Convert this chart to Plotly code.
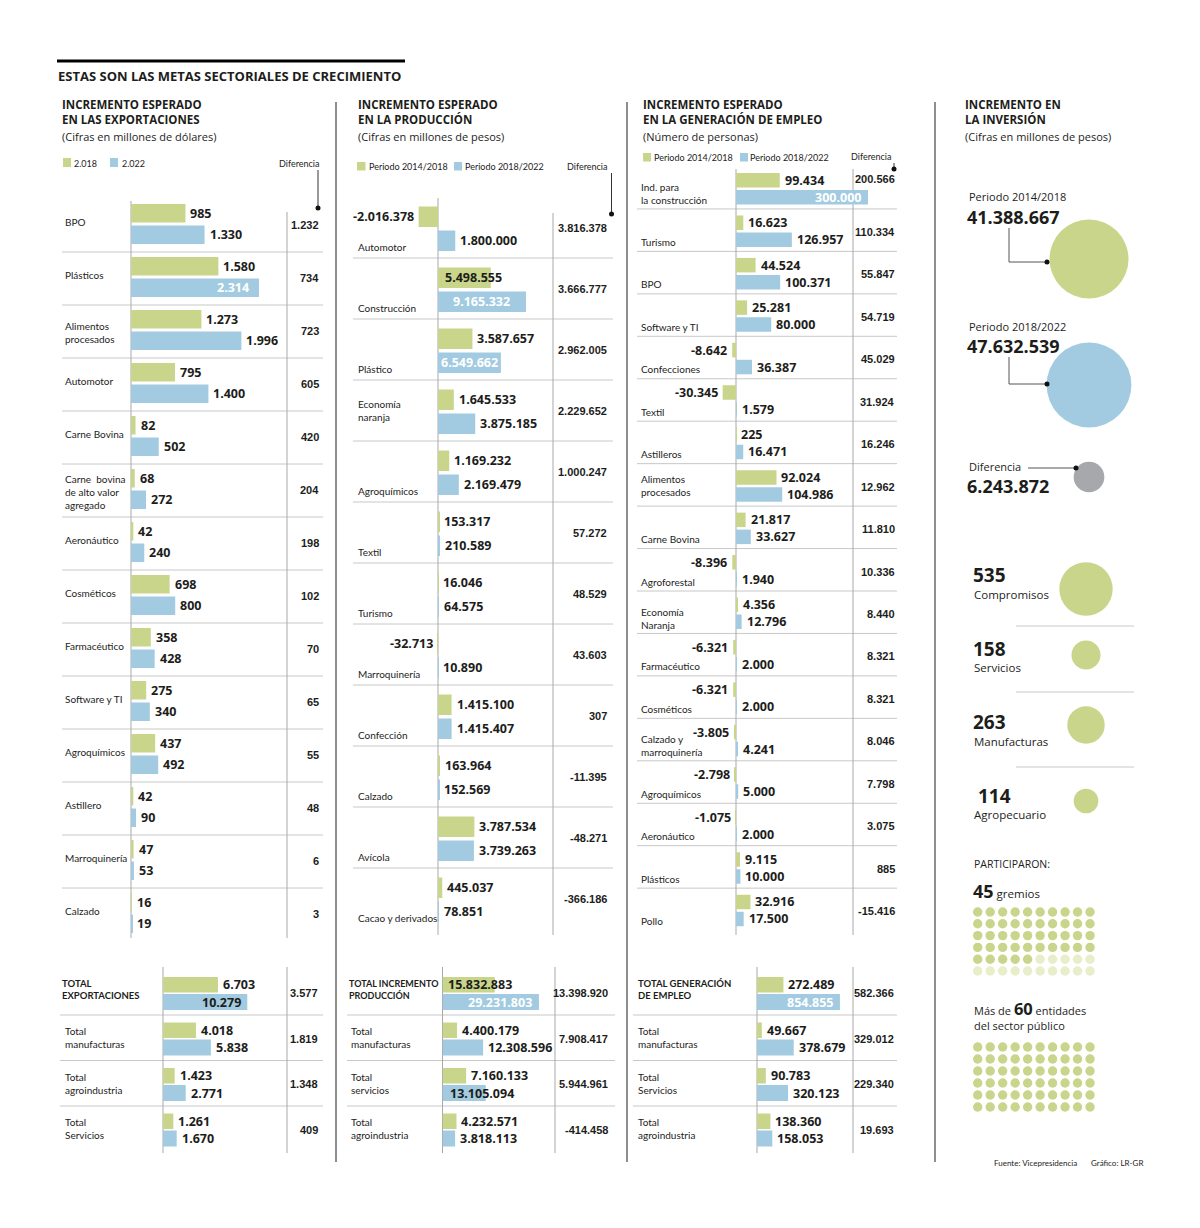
import plotly.graph_objects as go

W, H = 1200, 1228

# ---------------- DATA ----------------
# Exportaciones (millones de dólares)
exp_sectores = ["BPO", "Plásticos", "Alimentos<br>procesados", "Automotor", "Carne Bovina",
                "Carne  bovina<br>de alto valor<br>agregado", "Aeronáutico", "Cosméticos",
                "Farmacéutico", "Software y TI", "Agroquímicos", "Astillero", "Marroquinería", "Calzado"]
exp_2018 = [985, 1580, 1273, 795, 82, 68, 42, 698, 358, 275, 437, 42, 47, 16]
exp_2022 = [1330, 2314, 1996, 1400, 502, 272, 240, 800, 428, 340, 492, 90, 53, 19]
exp_diferencia = [1232, 734, 723, 605, 420, 204, 198, 102, 70, 65, 55, 48, 6, 3]

exp_tot_sectores = ["TOTAL<br>EXPORTACIONES", "Total<br>manufacturas", "Total<br>agroindustria", "Total<br>Servicios"]
exp_tot_2018 = [6703, 4018, 1423, 1261]
exp_tot_2022 = [10279, 5838, 2771, 1670]
exp_tot_diferencia = [3577, 1819, 1348, 409]

# Producción (millones de pesos)
prod_sectores = ["Automotor", "Construcción", "Plástico", "Economía<br>naranja", "Agroquímicos", "Textil",
                 "Turismo", "Marroquinería", "Confección", "Calzado", "Avícola", "Cacao y derivados"]
prod_1418 = [-2016378, 5498555, 3587657, 1645533, 1169232, 153317, 16046, -32713, 1415100, 163964, 3787534, 445037]
prod_1822 = [1800000, 9165332, 6549662, 3875185, 2169479, 210589, 64575, 10890, 1415407, 152569, 3739263, 78851]
prod_diferencia = [3816378, 3666777, 2962005, 2229652, 1000247, 57272, 48529, 43603, 307, -11395, -48271, -366186]

prod_tot_sectores = ["TOTAL INCREMENTO<br>PRODUCCIÓN", "Total<br>manufacturas", "Total<br>servicios", "Total<br>agroindustria"]
prod_tot_1418 = [15832883, 4400179, 7160133, 4232571]
prod_tot_1822 = [29231803, 12308596, 13105094, 3818113]
prod_tot_diferencia = [13398920, 7908417, 5944961, -414458]

# Empleo (número de personas)
emp_sectores = ["Ind. para<br>la construcción", "Turismo", "BPO", "Software y TI", "Confecciones", "Textil",
                "Astilleros", "Alimentos<br>procesados", "Carne Bovina", "Agroforestal", "Economía<br>Naranja",
                "Farmacéutico", "Cosméticos", "Calzado y<br>marroquinería", "Agroquímicos", "Aeronáutico",
                "Plásticos", "Pollo"]
emp_1418 = [99434, 16623, 44524, 25281, -8642, -30345, 225, 92024, 21817, -8396, 4356, -6321, -6321, -3805,
            -2798, -1075, 9115, 32916]
emp_1822 = [300000, 126957, 100371, 80000, 36387, 1579, 16471, 104986, 33627, 1940, 12796, 2000, 2000, 4241,
            5000, 2000, 10000, 17500]
emp_diferencia = [200566, 110334, 55847, 54719, 45029, 31924, 16246, 12962, 11810, 10336, 8440, 8321, 8321,
                  8046, 7798, 3075, 885, -15416]

emp_tot_sectores = ["TOTAL GENERACIÓN<br>DE EMPLEO", "Total<br>manufacturas", "Total<br>Servicios", "Total<br>agroindustria"]
emp_tot_1418 = [272489, 49667, 90783, 138360]
emp_tot_1822 = [854855, 378679, 320123, 158053]
emp_tot_diferencia = [582366, 329012, 229340, 19693]

# Inversión (millones de pesos)
inv_periodos = ["Periodo 2014/2018", "Periodo 2018/2022", "Diferencia"]
inv_valores = [41388667, 47632539, 6243872]

comp_labels = ["Compromisos", "Servicios", "Manufacturas", "Agropecuario"]
comp_valores = [535, 158, 263, 114]

gremios = 45
entidades = 60

# ---------------- STYLE ----------------
GREEN = "#c8d58a"
BLUE = "#a2cbe1"
GREYC = "#a7a8ab"
PALE = "#e8edca"
INK = "#1d1d1b"
RULE = "#c8c8c8"
VLINE = "#a9a9a9"
COLSEP = "#8e8e8e"
NUM = "Open Sans"
COND = "Noto Sans Condensed, Liberation Sans Narrow, Lato, sans-serif"
DIFF = "Noto Sans Condensed, Liberation Sans Narrow, Liberation Sans, sans-serif"

OFF = 8  # page body margin of the html page


def fmt(v):
    s = f"{abs(v):,}".replace(",", ".")
    return ("-" if v < 0 else "") + s


layout = {}
shapes = []
anns = []
traces = []


def hline(x0, x1, y, color=RULE, w=1):
    shapes.append(dict(type="line", xref="x", yref="y", x0=x0, x1=x1, y0=y, y1=y,
                       line=dict(color=color, width=w), layer="below"))


def vline(x, y0, y1, color=VLINE, w=1):
    shapes.append(dict(type="line", xref="x", yref="y", x0=x, x1=x, y0=y0, y1=y1,
                       line=dict(color=color, width=w), layer="below"))


def rect(x0, y0, x1, y1, color):
    shapes.append(dict(type="rect", xref="x", yref="y", x0=x0, x1=x1, y0=y0, y1=y1,
                       fillcolor=color, line=dict(width=0), layer="below"))


def text(x, y, s, size, family=COND, weight=400, color=INK, xanchor="left", yanchor="middle",
         xref="x", yref="y", xshift=0):
    anns.append(dict(x=x, y=y, xref=xref, yref=yref, text=s, showarrow=False, xanchor=xanchor,
                     yanchor=yanchor, align="right" if xanchor == "right" else "left", xshift=xshift,
                     font=dict(family=family, size=size, color=color, weight=weight)))


axis_counter = [1]


def panel(cats, v1, v2, base, scale, x0, x1, top, pitch, g, b, modes):
    axis_counter[0] += 1
    k = axis_counter[0]
    n = len(cats)
    xa, ya = f"x{k}", f"y{k}"
    bottom = top + n * pitch
    layout[f"xaxis{k}"] = dict(domain=[(x0 - OFF) / W, (x1 - OFF) / W],
                               range=[(x0 - base) / scale, (x1 - base) / scale],
                               visible=False, fixedrange=True, anchor=ya)
    layout[f"yaxis{k}"] = dict(domain=[1 - (bottom - OFF) / H, 1 - (top - OFF) / H], range=[n - 0.5, -0.5],
                               type="category", categoryorder="array", categoryarray=cats,
                               visible=False, fixedrange=True, anchor=xa)
    for key, (vals, (off, wid), col) in enumerate(((v1, g, GREEN), (v2, b, BLUE))):
        traces.append(go.Bar(x=vals, y=cats, orientation="h", xaxis=xa, yaxis=ya,
                             marker=dict(color=col, line=dict(width=0)), width=wid / pitch,
                             offset=-0.5 + off / pitch, hoverinfo="skip"))
        for i, v in enumerate(vals):
            mode, pad = modes.get((key, i), ("out", 3))
            yy = i - 0.5 + (off + wid / 2) / pitch
            color = INK
            if mode == "out":
                if v >= 0:
                    xx, xan, xs = v, "left", pad
                else:
                    xx, xan, xs = v, "right", -pad
            elif mode in ("inw", "ind"):
                xx, xan, xs = v, "right", -pad
                color = "white" if mode == "inw" else INK
            elif mode == "inl":
                xx, xan, xs = 0, "left", pad
            else:  # centered white
                xx, xan, xs = v / 2, "center", 0
                color = "white"
            anns.append(dict(x=xx, y=yy, xref=xa, yref=ya, text=fmt(v), showarrow=False, xanchor=xan,
                             yanchor="middle", xshift=xs,
                             font=dict(family=NUM, size=12.5, color=color, weight=700)))
    return k


# ---------------- overlay (pixel) axis ----------------
layout["xaxis"] = dict(domain=[0, 1], range=[OFF, W + OFF], visible=False, fixedrange=True)
layout["yaxis"] = dict(domain=[0, 1], range=[H + OFF, OFF], visible=False, fixedrange=True)

# title
hline(57, 405, 61, "#000000", 3)
text(56, 76, "ESTAS SON LAS METAS SECTORIALES DE CRECIMIENTO", 13, NUM, 700)

# column separators
for xs in (336, 627, 935):
    vline(xs, 102, 1162, COLSEP, 2)


def header(x, l1, l2, l3):
    text(x, 112, l1 + "<br>" + l2, 11.5, NUM, 700)
    text(x, 136.5, l3, 11, NUM, 400)


def diff_leader(xtext, ytext, xl, y0, y1):
    text(xtext, ytext, "Diferencia", 9, COND, xanchor="right")
    vline(xl, y0, y1, "#333333", 1)
    traces.append(go.Scatter(x=[xl], y=[y1], mode="markers", xaxis="x", yaxis="y", hoverinfo="skip",
                             marker=dict(size=5, color="#111111")))


LAB = 10     # category labels
LEG = 9      # legend texts
DSZ = 11     # difference values

# ================= COLUMN 1: EXPORTACIONES =================
header(59.5, "INCREMENTO ESPERADO", "EN LAS EXPORTACIONES", "(Cifras en millones de dólares)")
rect(63, 158, 71, 167, GREEN)
text(72, 163, "2.018", LEG)
rect(110, 158, 118, 167, BLUE)
text(120, 163, "2.022", LEG)
diff_leader(320.5, 163, 318, 170, 208)

T1, P1 = 199, 53
panel(exp_sectores, exp_2018, exp_2022, 131, 0.0553, 131, 330, T1, P1, (5, 18.5), (26.5, 18.5),
      {(1, 1): ("inw", 8)})
for i, c in enumerate(exp_sectores):
    yc = T1 + (i + 0.5) * P1
    text(63, yc + (1 if "<br>" in c else -4), c, LAB)
    text(321, yc - 1, fmt(exp_diferencia[i]), DSZ, DIFF, 700, xanchor="right")
for kk in range(1, len(exp_sectores)):
    hline(62, 323, T1 + kk * P1)
vline(131, 201, 938)
vline(287, 212, 938)

TT, PT = 969.5, 45.5
panel(exp_tot_sectores, exp_tot_2018, exp_tot_2022, 163, 0.0082, 163, 330, TT, PT, (7.5, 15.5), (24.5, 16),
      {(1, 0): ("ind", 4)})
for i, c in enumerate(exp_tot_sectores):
    yc = TT + (i + 0.5) * PT
    if i == 0:
        text(60, yc - 3, c, 9.5, COND, 700)
    else:
        text(63, yc, c, LAB)
    text(320, yc + 1, fmt(exp_tot_diferencia[i]), DSZ, DIFF, 700, xanchor="right")
for kk in range(1, 4):
    hline(60, 323, TT + kk * PT)
vline(163, 967, 1153)
vline(287, 967, 1153)

# ================= COLUMN 2: PRODUCCIÓN =================
header(356, "INCREMENTO ESPERADO", "EN LA PRODUCCIÓN", "(Cifras en millones de pesos)")
rect(357, 162, 365.5, 170.5, GREEN)
text(367, 166, "Periodo 2014/2018", LEG)
rect(454, 162, 462, 170.5, BLUE)
text(463, 166, "Periodo 2018/2022", LEG)
diff_leader(608.5, 166, 611.5, 173, 214)

T2, P2 = 197, 61
panel(prod_sectores, prod_1418, prod_1822, 438, 0.96e-5, 400, 620, T2, P2, (9.5, 20.5), (33.5, 20.5),
      {(0, 1): ("inl", 5), (1, 1): ("incw", 0), (1, 2): ("incw", 0)})
for i, c in enumerate(prod_sectores):
    yt = T2 + i * P2
    text(356, (yt + P2 / 2) if "<br>" in c else (yt + 50), c, LAB)
    text(608.5, yt + P2 / 2, fmt(prod_diferencia[i]), DSZ, DIFF, 700, xanchor="right")
for kk in range(1, len(prod_sectores)):
    hline(353, 613, T2 + kk * P2)
vline(438, 198, 935)
vline(553, 213, 935)

panel(prod_tot_sectores, prod_tot_1418, prod_tot_1822, 442.5, 3.3e-6, 442.5, 620, TT, PT, (7.5, 15.5), (24.5, 16),
      {(0, 0): ("inl", 3), (1, 0): ("inw", 5), (1, 2): ("inl", 5)})
for i, c in enumerate(prod_tot_sectores):
    yc = TT + (i + 0.5) * PT
    if i == 0:
        text(347, yc - 3, c, 9, COND, 700)
    else:
        text(349, yc, c, LAB)
    text(610, yc + 1, fmt(prod_tot_diferencia[i]), DSZ, DIFF, 700, xanchor="right")
for kk in range(1, 4):
    hline(347, 615, TT + kk * PT)
vline(442.5, 967, 1153)
vline(555, 967, 1153)

# ================= COLUMN 3: EMPLEO =================
header(641, "INCREMENTO ESPERADO", "EN LA GENERACIÓN DE EMPLEO", "(Número de personas)")
rect(643, 153, 651, 161.5, GREEN)
text(652, 157, "Periodo 2014/2018", LEG)
rect(740, 153, 748, 161.5, BLUE)
text(748, 157, "Periodo 2018/2022", LEG)
diff_leader(893, 156.5, 894, 163, 169)

T3, P3 = 166.5, 42.45
panel(emp_sectores, emp_1418, emp_1822, 736, 4.4e-4, 700, 900, T3, P3, (6.5, 14.5), (23.5, 14.5),
      {(1, 0): ("inw", 5)})
for i, c in enumerate(emp_sectores):
    yt = T3 + i * P3
    if "<br>" in c:
        yl = yt + (22 if c.startswith("Alimentos") else 27)
    else:
        yl = yt + 33
    text(639, yl, c, LAB)
    text(897, yt + (12.5 if i == 0 else 23), fmt(emp_diferencia[i]), DSZ, DIFF, 700, xanchor="right")
for kk in range(1, len(emp_sectores)):
    hline(637, 897, T3 + kk * P3)
vline(736, 169, 935)
vline(853, 169, 935)

panel(emp_tot_sectores, emp_tot_1418, emp_tot_1822, 757, 0.97e-4, 757, 900, TT, PT, (7.5, 15.5), (24.5, 16),
      {(1, 0): ("inw", 5)})
for i, c in enumerate(emp_tot_sectores):
    yc = TT + (i + 0.5) * PT
    if i == 0:
        text(636, yc - 3, c, 9.5, COND, 700)
    else:
        text(636, yc, c, LAB)
    text(896, yc + 1, fmt(emp_tot_diferencia[i]), DSZ, DIFF, 700, xanchor="right")
for kk in range(1, 4):
    hline(633, 897, TT + kk * PT)
vline(757, 967, 1153)
vline(853, 967, 1153)

# ================= COLUMN 4: INVERSIÓN =================
text(962.5, 112, "INCREMENTO EN<br>LA INVERSIÓN", 11.5, NUM, 700)
text(962.5, 136.5, "(Cifras en millones de pesos)", 11, NUM)

inv_label_y = [196, 326, 466.5]
inv_value_y = [216.5, 345.5, 486]
inv_centers = [(1089, 259), (1089, 385), (1089, 477)]
inv_colors = [GREEN, BLUE, GREYC]
r_max = 42.4
vmax = max(inv_valores)
for lab, v, ly, vy, (cx, cy), col in zip(inv_periodos, inv_valores, inv_label_y, inv_value_y, inv_centers, inv_colors):
    text(967, ly, lab, 11, NUM)
    text(965, vy, fmt(v), 18, NUM, 700)
    d = 2 * r_max * (v / vmax) ** 0.5
    traces.append(go.Scatter(x=[cx], y=[cy], mode="markers", xaxis="x", yaxis="y", hoverinfo="skip",
                             marker=dict(size=d, color=col, line=dict(width=0))))
# connectors
for y0, y1 in ((228, 262), (357, 384)):
    vline(1009, y0, y1, "#555555", 1)
    hline(1009, 1047, y1, "#555555", 1)
hline(1028, 1076, 468, "#555555", 1)
traces.append(go.Scatter(x=[1047, 1047, 1076], y=[262, 384, 468], mode="markers", xaxis="x", yaxis="y",
                         hoverinfo="skip", marker=dict(size=5, color="#111111")))

# compromisos
comp_num_y = [575, 649, 722, 796]
comp_lab_y = [594, 667, 741, 814]
comp_circ_y = [589, 655, 725, 801]
cmax = max(comp_valores)
for j, (lab, v) in enumerate(zip(comp_labels, comp_valores)):
    text(971 if j < 3 else 976, comp_num_y[j], str(v), 19, NUM, 700)
    text(971.5, comp_lab_y[j], lab, 11.5, NUM)
    d = 2 * 26.7 * (v / cmax) ** 0.5
    traces.append(go.Scatter(x=[1086], y=[comp_circ_y[j]], mode="markers", xaxis="x", yaxis="y",
                             hoverinfo="skip", marker=dict(size=d, color=GREEN, line=dict(width=0))))
for ys in (626, 692, 767):
    hline(1016, 1134, ys, RULE, 1)

# participaron
BIG = '<span style="font-size:{}px;font-weight:bold">{}</span>'
text(971.5, 864, "PARTICIPARON:", 10.5, NUM)
text(971, 891, BIG.format(18, gremios) + " gremios", 11.5, NUM)
text(971.5, 1008, "Más de " + BIG.format(16.5, entidades) + " entidades", 11, NUM)
text(971.5, 1025, "del sector público", 11, NUM)


def dot_grid(count, y0, dy):
    xs, ys, cs = [], [], []
    for r in range(6):
        for c in range(10):
            idx = r * 10 + c
            xs.append(977.7 + c * 12.48)
            ys.append(y0 + r * dy)
            cs.append(GREEN if idx < count else PALE)
    traces.append(go.Scatter(x=xs, y=ys, mode="markers", xaxis="x", yaxis="y", hoverinfo="skip",
                             marker=dict(size=9.4, color=cs, line=dict(width=0))))


dot_grid(gremios, 912, 11.8)
dot_grid(entidades, 1047, 12)

text(992, 1163, "Fuente: Vicepresidencia", 8, COND)
text(1089, 1163, "Gráfico: LR-GR", 8, COND)

fig = go.Figure(data=traces)
fig.update_layout(width=W, height=H, margin=dict(l=0, r=0, t=0, b=0), paper_bgcolor="white",
                  plot_bgcolor="rgba(0,0,0,0)", showlegend=False, barmode="overlay",
                  shapes=shapes, annotations=anns, **layout)
fig.write_html("out.html")
